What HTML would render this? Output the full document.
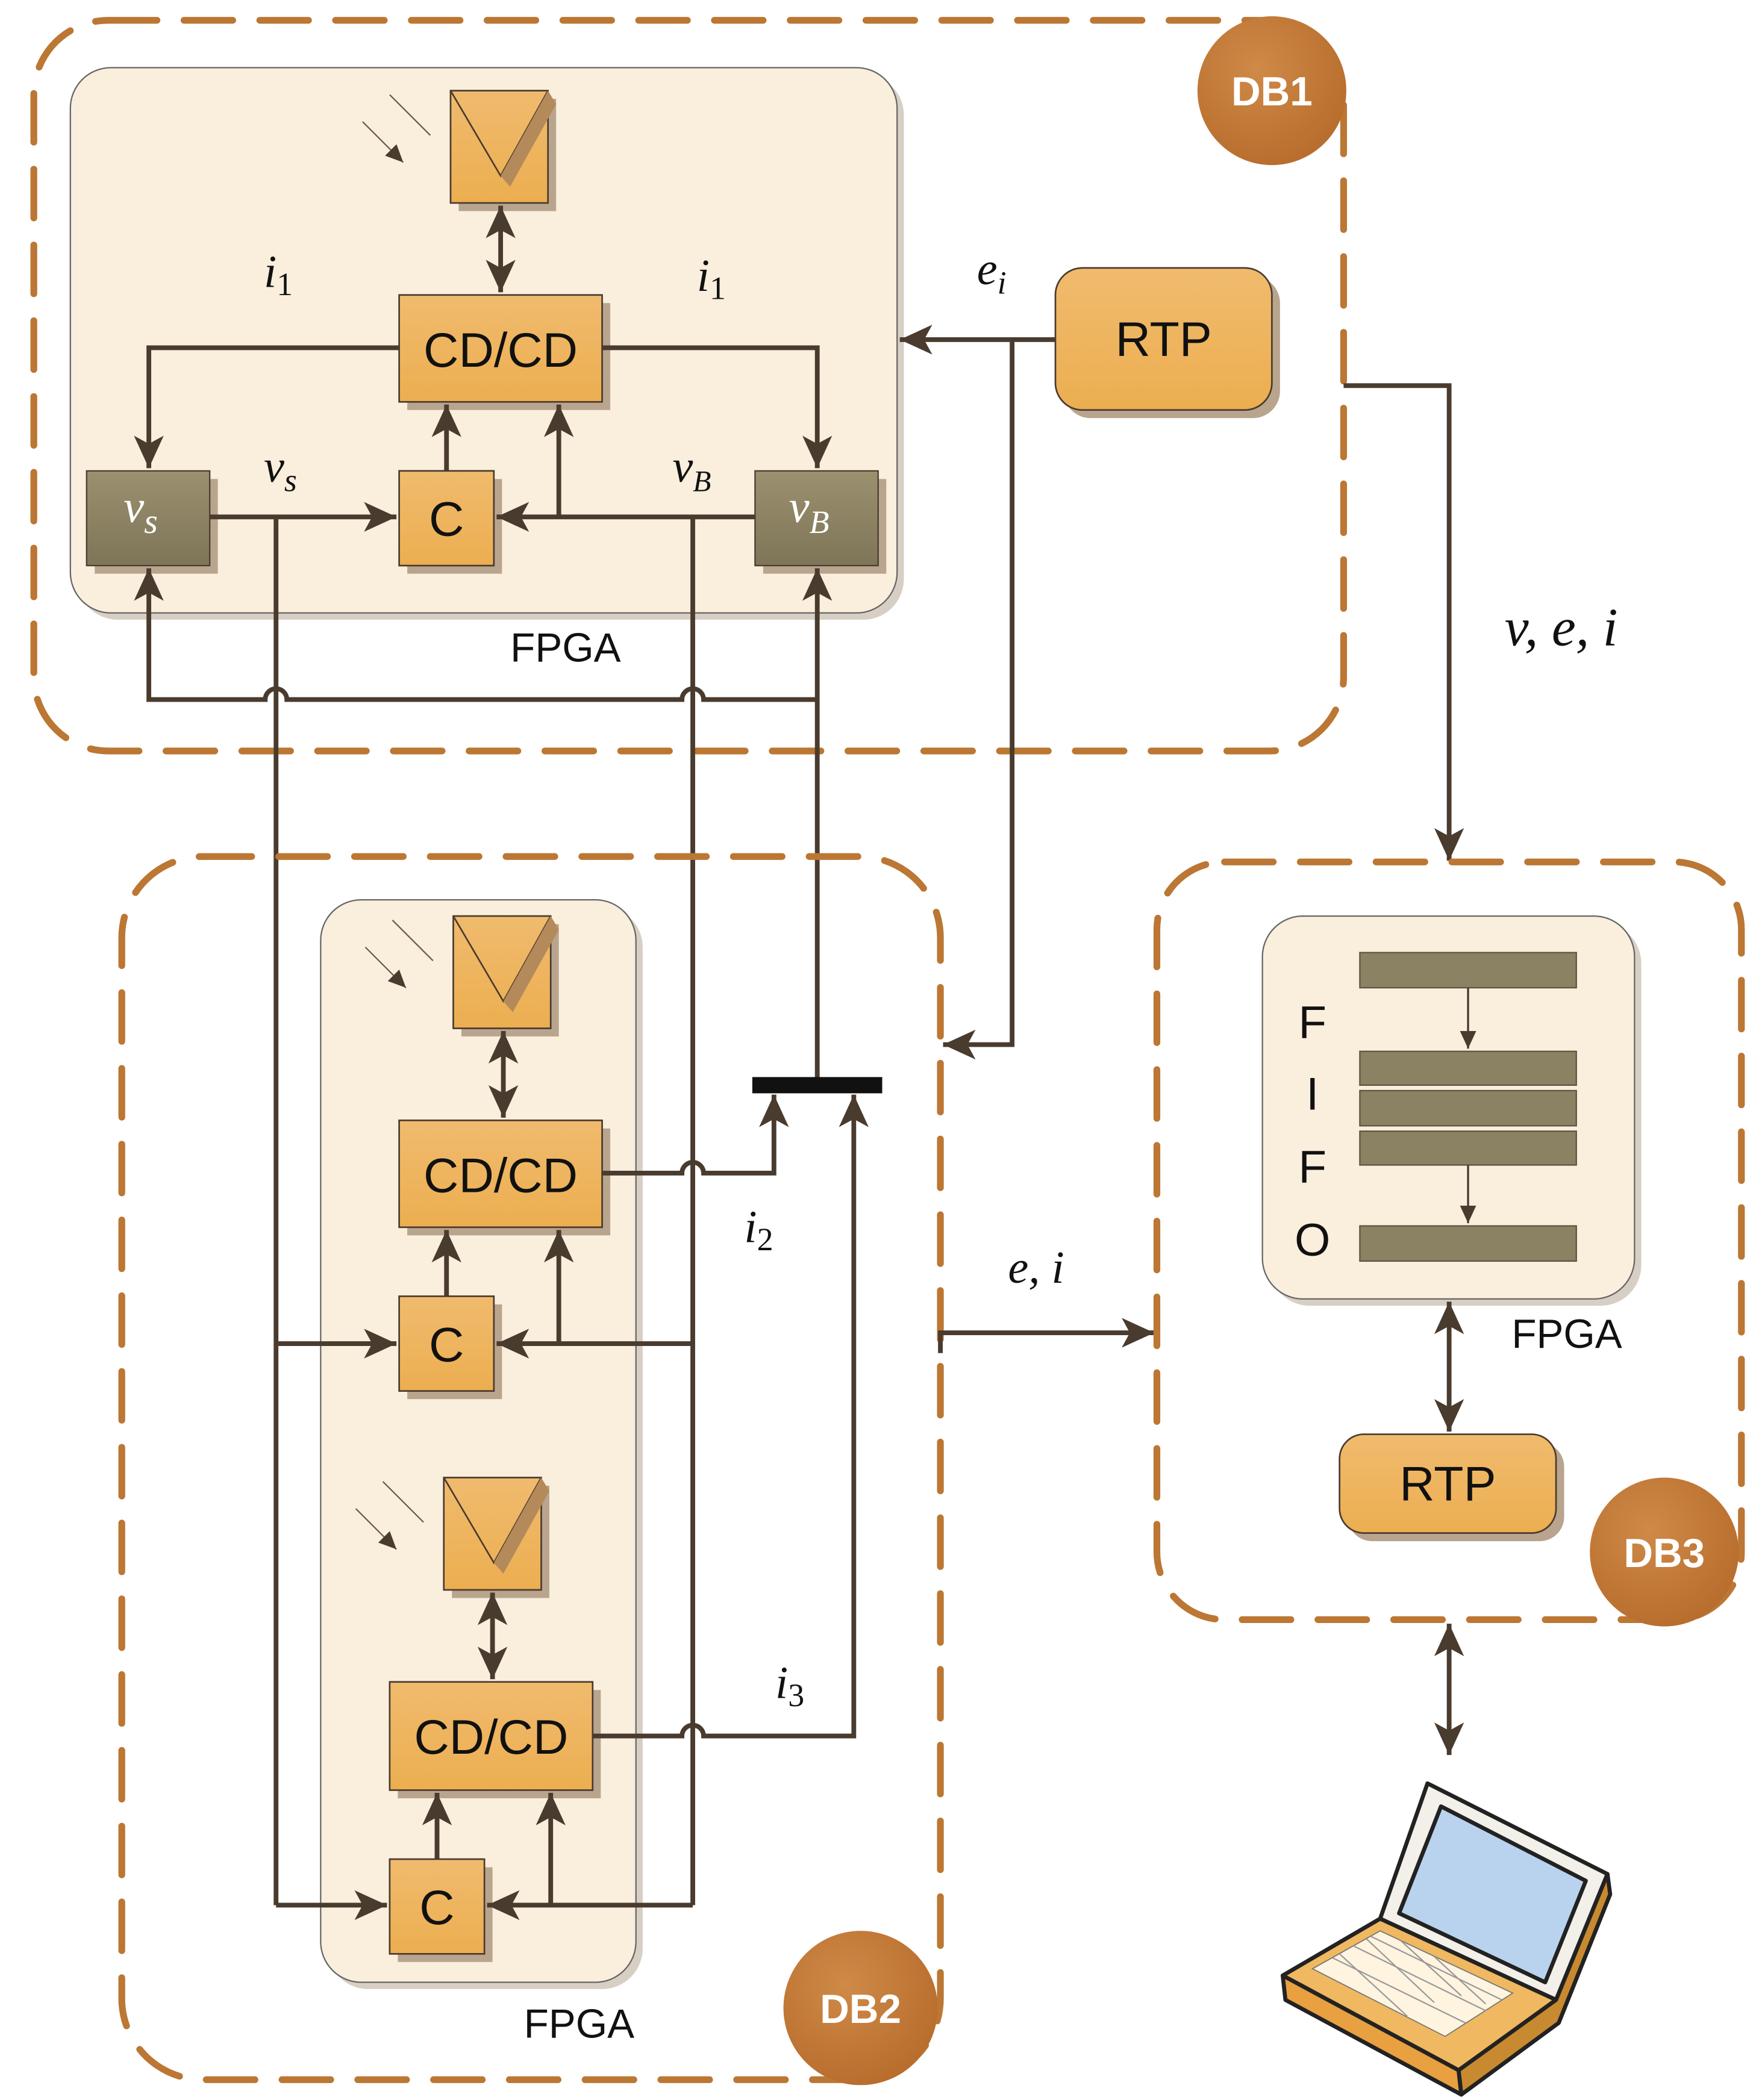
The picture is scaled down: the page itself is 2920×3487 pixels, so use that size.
<!DOCTYPE html>
<html><head><meta charset="utf-8"><style>
html,body{margin:0;padding:0;background:#fff;}
svg{display:block;}
.t{font-family:"Liberation Sans",sans-serif;fill:#111;}
.m{font-family:"Liberation Serif",serif;font-style:italic;fill:#111;}
.ln{stroke:#4a3b2f;stroke-width:3.5;fill:none;}
.db{stroke:#bb7733;stroke-width:5;fill:none;stroke-dasharray:36 20;stroke-linecap:round;}
</style></head><body>
<svg width="2920" height="3487" viewBox="0 0 1300 1552" preserveAspectRatio="none" xmlns="http://www.w3.org/2000/svg">
<defs>
<marker id="a" markerUnits="userSpaceOnUse" markerWidth="26" markerHeight="22" refX="24" refY="11" orient="auto-start-reverse">
<path d="M0,0 L24,11 L0,22 L6,11 Z" fill="#4a3b2f"/></marker>
<marker id="s" markerUnits="userSpaceOnUse" markerWidth="14" markerHeight="12" refX="13" refY="6" orient="auto">
<path d="M0,0 L13,6 L0,12 Z" fill="#4a3b2f"/></marker>
<linearGradient id="og" x1="0" y1="0" x2="0" y2="1"><stop offset="0" stop-color="#f0bb6e"/><stop offset="1" stop-color="#ecae50"/></linearGradient>
<linearGradient id="gg" x1="0" y1="0" x2="0" y2="1"><stop offset="0" stop-color="#9b916f"/><stop offset="1" stop-color="#7e7558"/></linearGradient>
<radialGradient id="cg" cx="0.4" cy="0.35" r="0.7"><stop offset="0" stop-color="#cf8a48"/><stop offset="1" stop-color="#b76c2c"/></radialGradient>
</defs>

<!-- DB1 -->
<rect x="25" y="15" width="968" height="540" rx="55" class="db"/>
<rect x="57" y="55" width="611" height="403" rx="30" fill="#d8cfc4"/>
<rect x="52" y="50" width="611" height="403" rx="30" fill="#faeedd" stroke="#666" stroke-width="1"/>
<text x="418" y="489" class="t" font-size="30" text-anchor="middle">FPGA</text>

<!-- solar 1 -->
<rect x="339" y="73" width="72" height="83" fill="#b9a58e"/>
<rect x="333" y="67" width="72" height="83" fill="url(#og)" stroke="#4a3b2f" stroke-width="1.2"/>
<path d="M333 67 L370 130 L405 67" fill="none" stroke="#4a3b2f" stroke-width="1.2"/>
<path d="M405 67 L370 130 L377 138 L411 77Z" fill="#b48a5a"/>
<path d="M288 70 L318 100 M268 90 L298 120" stroke="#6b5a4a" stroke-width="1" marker-end="url(#s)"/>
<line x1="370" y1="152" x2="370" y2="216" class="ln" marker-start="url(#a)" marker-end="url(#a)"/>

<!-- CD/CD 1 -->
<rect x="301" y="224" width="150" height="79" fill="#b9a58e"/>
<rect x="295" y="218" width="150" height="79" fill="url(#og)" stroke="#4a3b2f" stroke-width="1.2"/>
<text x="370" y="271" class="t" font-size="36" text-anchor="middle">CD/CD</text>
<text x="195" y="212" class="m" font-size="34">i<tspan font-size="24" dy="6" font-style="normal">1</tspan></text>
<text x="515" y="215" class="m" font-size="34">i<tspan font-size="24" dy="6" font-style="normal">1</tspan></text>
<path d="M295 257 H110 V346" class="ln" marker-end="url(#a)"/>
<path d="M445 257 H604 V346" class="ln" marker-end="url(#a)"/>

<!-- vs, vB, C -->
<rect x="70" y="354" width="91" height="70" fill="#b9a58e"/>
<rect x="64" y="348" width="91" height="70" fill="url(#gg)" stroke="#4a3b2f" stroke-width="1"/>
<text x="104" y="386" class="m" font-size="34" fill="#fff" style="fill:#fff" text-anchor="middle">v<tspan font-size="26" dy="8">s</tspan></text>
<rect x="564" y="354" width="91" height="70" fill="#b9a58e"/>
<rect x="558" y="348" width="91" height="70" fill="url(#gg)" stroke="#4a3b2f" stroke-width="1"/>
<text x="598" y="386" class="m" font-size="34" style="fill:#fff" text-anchor="middle">v<tspan font-size="24" dy="8">B</tspan></text>
<rect x="301" y="354" width="70" height="70" fill="#b9a58e"/>
<rect x="295" y="348" width="70" height="70" fill="url(#og)" stroke="#4a3b2f" stroke-width="1.2"/>
<text x="330" y="396" class="t" font-size="36" text-anchor="middle">C</text>
<text x="195" y="356" class="m" font-size="34">v<tspan font-size="24" dy="7">s</tspan></text>
<text x="497" y="356" class="m" font-size="34">v<tspan font-size="22" dy="7">B</tspan></text>

<line x1="155" y1="382" x2="293" y2="382" class="ln" marker-end="url(#a)"/>
<line x1="558" y1="382" x2="367" y2="382" class="ln" marker-end="url(#a)"/>
<line x1="330" y1="348" x2="330" y2="299" class="ln" marker-end="url(#a)"/>
<line x1="413" y1="382" x2="413" y2="299" class="ln" marker-end="url(#a)"/>
<path d="M204 382 V1408" class="ln"/>
<path d="M512 382 V1408" class="ln"/>
<path d="M604 800 V420" class="ln" marker-end="url(#a)"/>
<path d="M604 517 H520 A8 8 0 0 0 504 517 H212 A8 8 0 0 0 196 517 H110 V420" class="ln" marker-end="url(#a)"/>

<!-- RTP 1 -->
<rect x="786" y="204" width="160" height="105" rx="20" fill="#b9a58e"/>
<rect x="780" y="198" width="160" height="105" rx="20" fill="url(#og)" stroke="#4a3b2f" stroke-width="1.2"/>
<text x="860" y="263" class="t" font-size="36" text-anchor="middle">RTP</text>
<text x="722" y="210" class="m" font-size="34">e<tspan font-size="24" dy="7">i</tspan></text>
<line x1="780" y1="251" x2="665" y2="251" class="ln" marker-end="url(#a)"/>
<path d="M748 251 V772 H697" class="ln" marker-end="url(#a)"/>
<path d="M993 285 H1071 V636" class="ln" marker-end="url(#a)"/>
<text x="1112" y="477" class="m" font-size="40">v, e, i</text>
<circle cx="940" cy="67" r="55" fill="url(#cg)"/>
<text x="940" y="78" class="t" font-size="30" font-weight="bold" style="fill:#fff" text-anchor="middle">DB1</text>

<!-- DB2 -->
<rect x="90" y="633" width="605" height="904" rx="60" class="db"/>
<rect x="242" y="670" width="233" height="800" rx="30" fill="#d8cfc4"/>
<rect x="237" y="665" width="233" height="800" rx="30" fill="#faeedd" stroke="#666" stroke-width="1"/>
<text x="428" y="1506" class="t" font-size="30" text-anchor="middle">FPGA</text>

<rect x="341" y="683" width="72" height="83" fill="#b9a58e"/>
<rect x="335" y="677" width="72" height="83" fill="url(#og)" stroke="#4a3b2f" stroke-width="1.2"/>
<path d="M335 677 L372 740 L407 677" fill="none" stroke="#4a3b2f" stroke-width="1.2"/>
<path d="M407 677 L372 740 L379 748 L413 687Z" fill="#b48a5a"/>
<path d="M290 680 L320 710 M270 700 L300 730" stroke="#6b5a4a" stroke-width="1" marker-end="url(#s)"/>
<line x1="372" y1="762" x2="372" y2="826" class="ln" marker-start="url(#a)" marker-end="url(#a)"/>
<rect x="301" y="834" width="150" height="79" fill="#b9a58e"/>
<rect x="295" y="828" width="150" height="79" fill="url(#og)" stroke="#4a3b2f" stroke-width="1.2"/>
<text x="370" y="881" class="t" font-size="36" text-anchor="middle">CD/CD</text>
<rect x="301" y="964" width="70" height="70" fill="#b9a58e"/>
<rect x="295" y="958" width="70" height="70" fill="url(#og)" stroke="#4a3b2f" stroke-width="1.2"/>
<text x="330" y="1006" class="t" font-size="36" text-anchor="middle">C</text>
<line x1="204" y1="993" x2="293" y2="993" class="ln" marker-end="url(#a)"/>
<line x1="512" y1="993" x2="367" y2="993" class="ln" marker-end="url(#a)"/>
<line x1="330" y1="958" x2="330" y2="909" class="ln" marker-end="url(#a)"/>
<line x1="413" y1="993" x2="413" y2="909" class="ln" marker-end="url(#a)"/>
<path d="M445 867 H504 A8 8 0 0 1 520 867 H572 V809" class="ln" marker-end="url(#a)"/>
<text x="550" y="918" class="m" font-size="34">i<tspan font-size="24" dy="6" font-style="normal">2</tspan></text>
<rect x="556" y="796" width="96" height="12" fill="#111"/>

<rect x="334" y="1098" width="72" height="83" fill="#b9a58e"/>
<rect x="328" y="1092" width="72" height="83" fill="url(#og)" stroke="#4a3b2f" stroke-width="1.2"/>
<path d="M328 1092 L365 1155 L400 1092" fill="none" stroke="#4a3b2f" stroke-width="1.2"/>
<path d="M400 1092 L365 1155 L372 1163 L406 1102Z" fill="#b48a5a"/>
<path d="M283 1095 L313 1125 M263 1115 L293 1145" stroke="#6b5a4a" stroke-width="1" marker-end="url(#s)"/>
<line x1="364" y1="1177" x2="364" y2="1241" class="ln" marker-start="url(#a)" marker-end="url(#a)"/>
<rect x="294" y="1249" width="150" height="80" fill="#b9a58e"/>
<rect x="288" y="1243" width="150" height="80" fill="url(#og)" stroke="#4a3b2f" stroke-width="1.2"/>
<text x="363" y="1296" class="t" font-size="36" text-anchor="middle">CD/CD</text>
<rect x="294" y="1380" width="70" height="70" fill="#b9a58e"/>
<rect x="288" y="1374" width="70" height="70" fill="url(#og)" stroke="#4a3b2f" stroke-width="1.2"/>
<text x="323" y="1422" class="t" font-size="36" text-anchor="middle">C</text>
<line x1="204" y1="1408" x2="286" y2="1408" class="ln" marker-end="url(#a)"/>
<line x1="512" y1="1408" x2="360" y2="1408" class="ln" marker-end="url(#a)"/>
<line x1="323" y1="1374" x2="323" y2="1325" class="ln" marker-end="url(#a)"/>
<line x1="407" y1="1408" x2="407" y2="1325" class="ln" marker-end="url(#a)"/>
<path d="M438 1283 H504 A8 8 0 0 1 520 1283 H631 V809" class="ln" marker-end="url(#a)"/>
<text x="573" y="1255" class="m" font-size="34">i<tspan font-size="24" dy="6" font-style="normal">3</tspan></text>
<circle cx="636" cy="1484" r="57" fill="url(#cg)"/>
<text x="636" y="1495" class="t" font-size="30" font-weight="bold" style="fill:#fff" text-anchor="middle">DB2</text>

<text x="745" y="948" class="m" font-size="34">e, i</text>
<path d="M695 1000 V985 H853" class="ln" marker-end="url(#a)"/>

<!-- DB3 -->
<rect x="855" y="637" width="432" height="560" rx="50" class="db"/>
<rect x="938" y="682" width="275" height="283" rx="30" fill="#d8cfc4"/>
<rect x="933" y="677" width="275" height="283" rx="30" fill="#faeedd" stroke="#666" stroke-width="1"/>
<g fill="#8a8263" stroke="#5c5540" stroke-width="1">
<rect x="1005" y="704" width="160" height="26"/>
<rect x="1005" y="777" width="160" height="25"/>
<rect x="1005" y="806" width="160" height="26"/>
<rect x="1005" y="836" width="160" height="25"/>
<rect x="1005" y="906" width="160" height="26"/>
</g>
<line x1="1085" y1="730" x2="1085" y2="775" stroke="#4a3b2f" stroke-width="1.5" marker-end="url(#s)"/>
<line x1="1085" y1="861" x2="1085" y2="904" stroke="#4a3b2f" stroke-width="1.5" marker-end="url(#s)"/>
<g class="t" font-size="34" text-anchor="middle">
<text x="970" y="767">F</text><text x="970" y="820">I</text><text x="970" y="874">F</text><text x="970" y="928">O</text>
</g>
<text x="1158" y="996" class="t" font-size="30" text-anchor="middle">FPGA</text>
<line x1="1071" y1="962" x2="1071" y2="1058" class="ln" marker-start="url(#a)" marker-end="url(#a)"/>
<rect x="996" y="1066" width="160" height="73" rx="18" fill="#b9a58e"/>
<rect x="990" y="1060" width="160" height="73" rx="18" fill="url(#og)" stroke="#4a3b2f" stroke-width="1.2"/>
<text x="1070" y="1109" class="t" font-size="36" text-anchor="middle">RTP</text>
<circle cx="1230" cy="1147" r="55" fill="url(#cg)"/>
<text x="1230" y="1158" class="t" font-size="30" font-weight="bold" style="fill:#fff" text-anchor="middle">DB3</text>
<line x1="1071" y1="1200" x2="1071" y2="1297" class="ln" marker-start="url(#a)" marker-end="url(#a)"/>

<!-- laptop -->
<g stroke="#222" stroke-width="3" stroke-linejoin="round">
<polygon points="1055,1318 1188,1385 1150,1478 1020,1418" fill="#f3f0ea"/>
<polygon points="1065,1335 1172,1390 1142,1465 1034,1414" fill="#b9d3ee"/>
<polygon points="948,1460 1020,1418 1150,1478 1078,1530" fill="#f0b860"/>
<polygon points="948,1460 1078,1530 1080,1548 950,1478" fill="#e8a040"/>
<polygon points="1078,1530 1150,1478 1188,1385 1190,1400 1152,1495 1080,1548" fill="#c88a30"/>
</g>
<g fill="#fff4e0" stroke="#777" stroke-width="0.8">
<polygon points="970,1455 1020,1427 1118,1473 1068,1505"/>
</g>
<g stroke="#999" stroke-width="1">
<line x1="985" y1="1447" x2="1083" y2="1495"/><line x1="1000" y1="1438" x2="1098" y2="1486"/><line x1="1013" y1="1431" x2="1110" y2="1478"/>
<line x1="990" y1="1444" x2="1040" y2="1490"/><line x1="1010" y1="1433" x2="1060" y2="1480"/><line x1="1035" y1="1434" x2="1080" y2="1475"/><line x1="1060" y1="1446" x2="1098" y2="1481"/>
</g>
</svg>
</body></html>
